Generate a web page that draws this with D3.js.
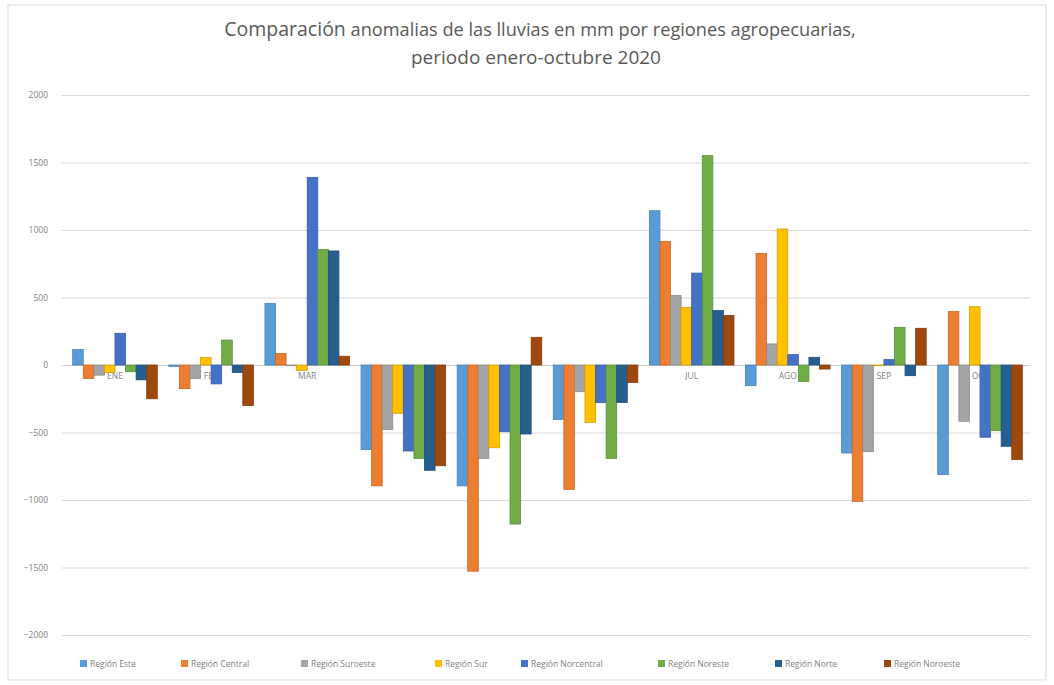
<html>
<script src='https://d3js.org/d3.v7.min.js'></script>
<style>
body {margin:0; background:#fff;}
text {font-family: 'Open Sans', sans-serif;}
</style>
<body onload='init()'>
<svg width=1054 height=685></svg>
<script>
var months = ["ENE","FEB","MAR","ABR","MAY","JUN","JUL","AGO","SEP","OCT"];
var regions = ["Región  Este","Región  Central","Región  Suroeste","Región  Sur","Región  Norcentral","Región Noreste","Región Norte","Región Noroeste"];
var colors = ["#5B9BD5","#ED7D31","#A5A5A5","#FFC000","#4472C4","#70AD47","#255E91","#9E480E"];
var yTicks = [-2000,-1500,-1000,-500,0,500,1000,1500,2000];

// one array per region, values per month (mm)
var este       = [115, -10, 455, -625, -895, -403, 1143, -153, -652, -812];
var central    = [-100, -175, 85, -895, -1527, -921, 916, 827, -1010, 396];
var suroeste   = [-75, -100, -5, -477, -692, -198, 514, 156, -642, -417];
var sur        = [-55, 55, -40, -358, -613, -425, 427, 1007, -5, 432];
var norcentral = [235, -140, 1390, -637, -494, -279, 681, 77, 40, -535];
var noreste    = [-50, 185, 855, -692, -1178, -692, 1551, -121, 279, -486];
var norte      = [-110, -55, 845, -780, -511, -277, 403, 57, -79, -602];
var noroeste   = [-250, -300, 65, -746, 205, -129, 366, -30, 272, -701];
var series = [este, central, suroeste, sur, norcentral, noreste, norte, noroeste];

function init() {
  var svg = d3.select("svg");

  // chart frame
  svg.append("rect").attr("x",8).attr("y",5).attr("width",1038).attr("height",675)
    .attr("fill","#fff").attr("stroke","#d9d9d9");

  // title
  var title = svg.append("text").attr("x",540).attr("y",36).attr("text-anchor","middle")
    .attr("fill","#595959").attr("font-size",18.2);
  title.append("tspan").attr("font-size",19.5).text("Comparación");
  title.append("tspan").text(" anomalias de las lluvias en mm por  regiones agropecuarias,");
  svg.append("text").attr("x",536).attr("y",64).attr("text-anchor","middle")
    .attr("fill","#595959").attr("font-size",19).text("periodo enero-octubre 2020");

  var y = d3.scaleLinear().domain([-2000,2000]).range([635,95]);
  var x = d3.scaleBand().domain(months).range([65,1030]).paddingInner(0.12).paddingOuter(0.08);
  var xi = d3.scaleBand().domain(d3.range(regions.length)).range([0, x.bandwidth()]);

  // gridlines
  var yAxis = d3.axisLeft(y).tickValues(yTicks).tickFormat(d3.format("d"))
    .tickSize(-(1030-62)).tickPadding(14);
  var gy = svg.append("g").attr("transform","translate(62,0)").call(yAxis);
  gy.select(".domain").remove();
  gy.selectAll("line").attr("stroke","#d9d9d9").attr("stroke-width",1.2);
  gy.selectAll("text").attr("fill","#7f7f7f").attr("font-size",8.5);

  // category labels sit under the bars
  var xAxis = d3.axisBottom(x).tickSize(0).tickPadding(8);
  var gx = svg.append("g").attr("transform","translate(0,"+y(0)+")").call(xAxis);
  gx.select(".domain").attr("stroke","#c8c8c8");
  gx.selectAll("text").attr("fill","#7f7f7f").attr("font-size",8.5);

  // bars
  var groups = svg.selectAll("g.month").data(months).enter().append("g")
    .attr("class","month").attr("transform", function(d){ return "translate("+x(d)+",0)"; });

  groups.selectAll("rect").data(function(m, mi){
      return series.map(function(s, si){ return {si: si, v: s[mi]}; });
    }).enter().append("rect")
    .attr("x", function(d){ return xi(d.si); })
    .attr("width", xi.bandwidth())
    .attr("y", function(d){ return y(Math.max(0, d.v)); })
    .attr("height", function(d){ return Math.abs(y(d.v) - y(0)); })
    .attr("fill", function(d){ return colors[d.si]; })
    .attr("stroke", function(d){ return d3.color(colors[d.si]).darker(0.5); })
    .attr("stroke-width", 0.8);

  // legend
  var legendX = [80,181,301,435,521,658,775,884];
  var lg = svg.selectAll("g.legend").data(regions).enter().append("g")
    .attr("class","legend").attr("transform", function(d,i){ return "translate("+legendX[i]+",664)"; });
  lg.append("rect").attr("x",0).attr("y",-4).attr("width",7).attr("height",7)
    .attr("fill", function(d,i){ return colors[i]; });
  lg.append("text").attr("x",10).attr("y",3).attr("font-size",8.5).attr("fill","#7f7f7f")
    .text(function(d){ return d; });
}
</script>
</body>
</html>
